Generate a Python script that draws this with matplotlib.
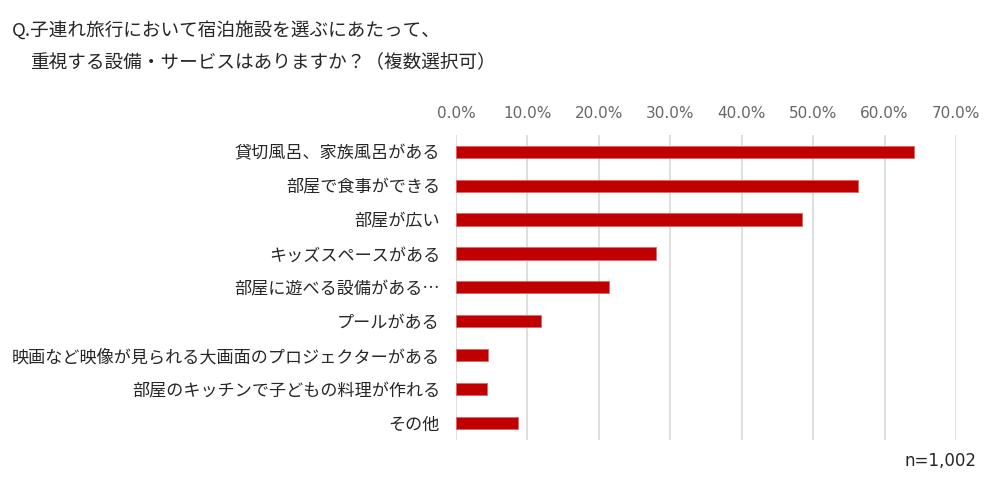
import matplotlib.pyplot as plt
from matplotlib.ticker import FuncFormatter

plt.rcParams['font.family'] = ['Noto Sans CJK JP', 'DejaVu Sans']

# Data
categories = [
    '貸切風呂、家族風呂がある',
    '部屋で食事ができる',
    '部屋が広い',
    'キッズスペースがある',
    '部屋に遊べる設備がある…',
    'プールがある',
    '映画など映像が見られる大画面のプロジェクターがある',
    '部屋のキッチンで子どもの料理が作れる',
    'その他',
]
values = [64.1, 56.3, 48.4, 28.0, 21.4, 11.9, 4.5, 4.4, 8.7]
x_ticks = [0, 10, 20, 30, 40, 50, 60, 70]

title_line1 = 'Q.子連れ旅行において宿泊施設を選ぶにあたって、'
title_line2 = '重視する設備・サービスはありますか？（複数選択可）'
note = 'n=1,002'

fig = plt.figure(figsize=(10, 4.83), dpi=100)
ax = fig.add_axes([0.456, 0.089, 0.500, 0.632])

ypos = list(range(len(categories)))
ax.barh(ypos, values, height=0.36, color='#c00000', edgecolor='#e06666', linewidth=0.6, zorder=3)

ax.set_xlim(0, 70)
ax.set_ylim(len(categories) - 0.5, -0.5)
ax.set_xticks(x_ticks)
ax.xaxis.set_major_formatter(FuncFormatter(lambda v, p: f'{v:.1f}%'))
ax.xaxis.tick_top()
ax.tick_params(axis='x', length=0, pad=10, labelsize=11, labelcolor='#666666')
ax.set_yticks(ypos)
ax.set_yticklabels(categories)
ax.tick_params(axis='y', length=0, pad=11.5, labelsize=12.3, labelcolor='#262626')
for lbl in ax.get_xticklabels():
    lbl.set_family(['DejaVu Sans'])

ax.grid(axis='x', color='#d9d9d9', linewidth=1.2, zorder=0)
for s in ax.spines.values():
    s.set_visible(False)

fig.text(0.012, 0.937, title_line1, fontsize=13.4, color='#262626', va='center')
fig.text(0.030, 0.870, title_line2, fontsize=13.4, color='#262626', va='center')
fig.text(0.977, 0.045, note, fontsize=12, color='#262626', ha='right', va='center',
         family=['DejaVu Sans'])

fig.savefig('out.png', dpi=100, facecolor='white')
